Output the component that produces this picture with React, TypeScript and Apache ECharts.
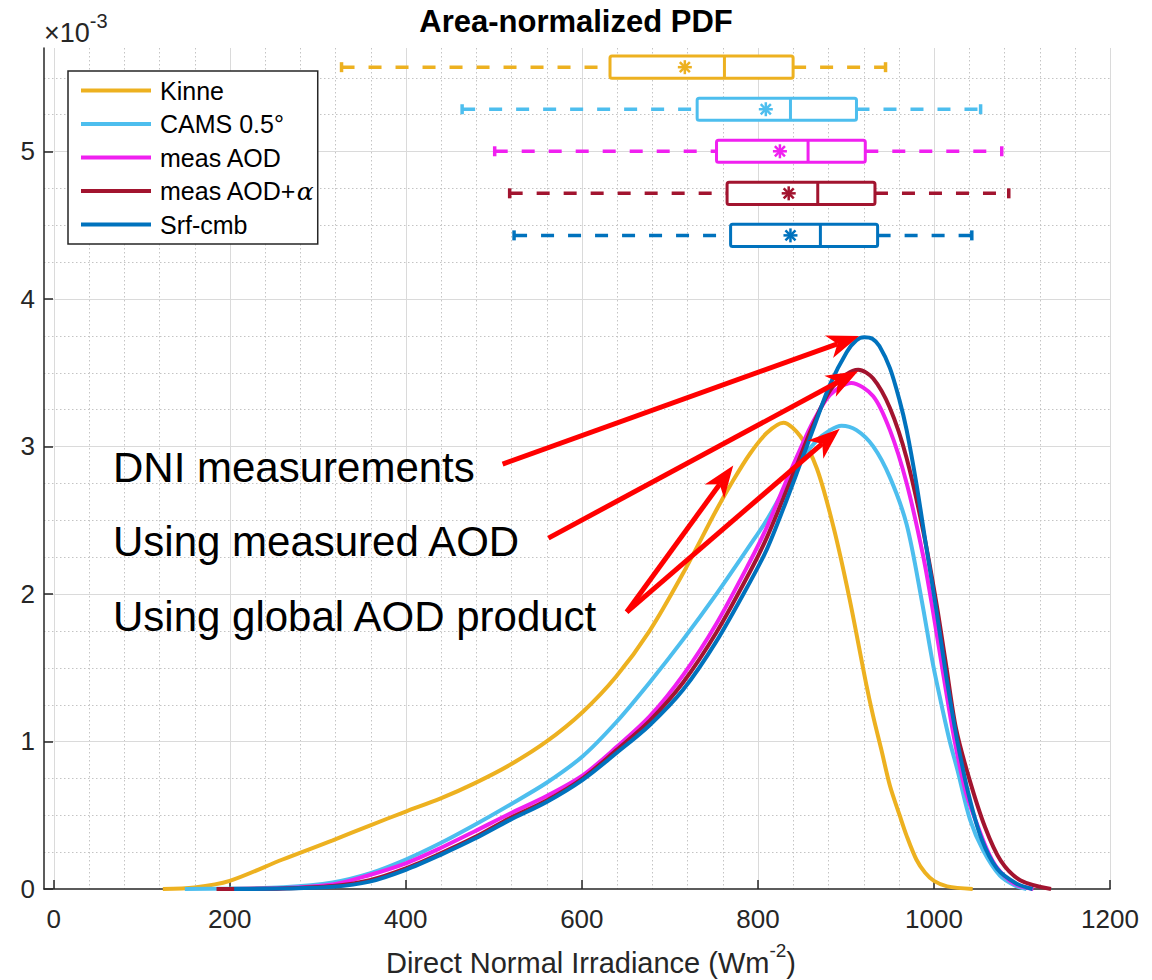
import React, { useEffect, useRef } from "react";
import * as echarts from "echarts";

const FONT = '"Liberation Sans", Arial, Helvetica, sans-serif';

const seriesNames = ["Kinne", "CAMS 0.5°", "meas AOD", "meas AOD+α", "Srf-cmb"];
const seriesColors = ["#EDB120", "#4DBEEE", "#F020F0", "#A2142F", "#0072BD"];

// PDF curves (x: W/m2, y: PDF in 1e-3 units)
const kinneX = [124, 160, 200, 260, 317, 359, 400, 439, 478, 518, 560, 601, 639, 677, 715, 753, 772, 791, 810, 829, 848, 867, 886, 904, 923, 931, 940, 950, 961, 969, 980, 990, 1000, 1015, 1044];
const kinneY = [0, 0.01, 0.055, 0.2, 0.33, 0.43, 0.525, 0.612, 0.716, 0.84, 1.0, 1.2, 1.44, 1.75, 2.14, 2.57, 2.77, 2.95, 3.09, 3.16, 3.07, 2.85, 2.45, 1.97, 1.39, 1.17, 0.95, 0.7, 0.5, 0.36, 0.2, 0.11, 0.055, 0.018, 0];

const camsX = [149, 200, 261, 317, 359, 400, 439, 478, 518, 560, 601, 639, 677, 715, 753, 791, 810, 829, 848, 867, 882, 895, 912, 931, 950, 969, 986, 999, 1010, 1018, 1027, 1041, 1056, 1075, 1093, 1105];
const camsY = [0, 0.003, 0.012, 0.045, 0.106, 0.2, 0.31, 0.434, 0.57, 0.72, 0.9, 1.13, 1.4, 1.69, 2.0, 2.33, 2.5, 2.7, 2.9, 3.04, 3.11, 3.14, 3.11, 3.0, 2.79, 2.47, 1.96, 1.52, 1.21, 1.0, 0.8, 0.47, 0.26, 0.09, 0.02, 0];

const measX = [190, 260, 317, 359, 400, 439, 478, 518, 560, 601, 639, 677, 715, 753, 791, 810, 829, 848, 863, 882, 906, 931, 950, 969, 988, 999, 1011, 1023, 1036, 1047, 1060, 1071, 1090, 1113];
const measY = [0, 0.005, 0.03, 0.095, 0.174, 0.276, 0.39, 0.51, 0.63, 0.77, 0.96, 1.17, 1.45, 1.8, 2.22, 2.45, 2.72, 2.98, 3.17, 3.35, 3.43, 3.34, 3.11, 2.75, 2.25, 1.88, 1.44, 1.02, 0.66, 0.47, 0.27, 0.15, 0.04, 0];

const measAlphaX = [185, 260, 317, 359, 400, 439, 478, 518, 560, 601, 639, 677, 715, 753, 791, 810, 829, 848, 863, 882, 901, 914, 931, 950, 969, 988, 1003, 1014, 1025, 1040, 1058, 1076, 1098, 1133];
const measAlphaY = [0, 0.004, 0.02, 0.06, 0.14, 0.24, 0.35, 0.48, 0.6, 0.75, 0.94, 1.14, 1.4, 1.74, 2.15, 2.38, 2.65, 2.93, 3.15, 3.38, 3.49, 3.52, 3.46, 3.26, 2.92, 2.42, 1.93, 1.51, 1.09, 0.75, 0.42, 0.19, 0.06, 0];

const srfX = [205, 260, 317, 359, 400, 439, 478, 518, 560, 601, 639, 677, 715, 753, 791, 810, 829, 848, 863, 882, 901, 912, 921, 930, 938, 950, 961, 969, 980, 991, 1003, 1014, 1026, 1039, 1054, 1072, 1094, 1112];
const srfY = [0, 0.003, 0.015, 0.05, 0.13, 0.23, 0.34, 0.467, 0.59, 0.74, 0.92, 1.11, 1.35, 1.68, 2.08, 2.3, 2.58, 2.88, 3.12, 3.42, 3.64, 3.72, 3.74, 3.73, 3.68, 3.53, 3.31, 3.11, 2.75, 2.33, 1.88, 1.44, 1.02, 0.65, 0.34, 0.135, 0.036, 0];

const curveX = [kinneX, camsX, measX, measAlphaX, srfX];
const curveY = [kinneY, camsY, measY, measAlphaY, srfY];

// Box plots: [lower whisker, Q1, median, Q3, upper whisker, mean]
const boxPositions = [5.57, 5.285, 5.0, 4.715, 4.43];
const boxKinne = [327, 632, 762, 840, 945, 717];
const boxCams = [464, 731, 837, 912, 1053, 809];
const boxMeas = [501, 753, 857, 922, 1077, 825];
const boxMeasAlpha = [518, 765, 868, 933, 1085, 835];
const boxSrf = [523, 769, 871, 936, 1043, 837];
const boxStats = [boxKinne, boxCams, boxMeas, boxMeasAlpha, boxSrf];
const BOX_HALF = 0.075;

// Axis ticks
const xTicks = [0, 200, 400, 600, 800, 1000, 1200];
const yTicks = [0, 1, 2, 3, 4, 5];

// Annotation arrows [x1, y1, x2, y2] in data units
const arrowDNI = [510, 2.88, 915, 3.748];
const arrowMeasured = [562, 2.378, 914, 3.51];
const arrowGlobalA = [651, 1.877, 772, 2.87];
const arrowGlobalB = [651, 1.877, 893, 3.12];
const arrows = [arrowDNI, arrowMeasured, arrowGlobalA, arrowGlobalB];

const annotationTexts = ["DNI measurements", "Using measured AOD", "Using global AOD product"];

function range(a: number, b: number, step: number): number[] {
  const out: number[] = [];
  for (let v = a; v <= b + 1e-9; v += step) out.push(Math.round(v * 1000) / 1000);
  return out;
}

const xMajorGrid = range(0, 1200, 200);
const xMinorGrid = range(0, 1200, 40).filter((v) => v % 200 !== 0);
const yMajorGrid = range(1, 5, 1);
const yMinorGrid = range(0.25, 5.5, 0.25).filter((v) => Math.abs(v - Math.round(v)) > 1e-6);

function gridSeries(values: number[], vertical: boolean, major: boolean) {
  return {
    type: "custom",
    silent: true,
    z: 0,
    data: values.map((v) => (vertical ? [v, 0] : [0, v])),
    encode: { x: 0, y: 1 },
    renderItem: (params: any, api: any) => {
      const cs = params.coordSys;
      const p = api.coord([api.value(0), api.value(1)]);
      const shape = vertical
        ? { x1: Math.round(p[0]) + 0.5, y1: cs.y, x2: Math.round(p[0]) + 0.5, y2: cs.y + cs.height }
        : { x1: cs.x, y1: Math.round(p[1]) + 0.5, x2: cs.x + cs.width, y2: Math.round(p[1]) + 0.5 };
      return {
        type: "line",
        shape,
        style: major
          ? { stroke: "#DADADA", lineWidth: 1 }
          : { stroke: "#C4C4C4", lineWidth: 1, lineDash: [1.5, 2.5] },
      };
    },
  };
}

export default function App() {
  const ref = useRef<HTMLDivElement>(null);

  useEffect(() => {
    if (!ref.current) return;
    const chart = echarts.init(ref.current, null, { renderer: "svg" });

    const lineSeries = seriesNames.map((name, i) => ({
      name,
      type: "line",
      data: curveX[i].map((x, k) => [x, curveY[i][k]]),
      smooth: 0.3,
      showSymbol: false,
      color: seriesColors[i],
      lineStyle: { width: 4, color: seriesColors[i] },
      z: 2,
    }));

    const boxSeries = {
      type: "custom",
      name: "boxes",
      silent: true,
      z: 3,
      data: boxStats.map((s, i) => [boxPositions[i], ...s]),
      encode: { x: [1, 2, 3, 4, 5, 6], y: 0 },
      renderItem: (params: any, api: any) => {
        const color = seriesColors[params.dataIndex];
        const pos = api.value(0);
        const px = (v: number) => api.coord([v, pos])[0];
        const y = api.coord([0, pos])[1];
        const h = api.size([0, BOX_HALF])[1];
        const wlo = px(api.value(1));
        const q1 = px(api.value(2));
        const med = px(api.value(3));
        const q3 = px(api.value(4));
        const whi = px(api.value(5));
        const mean = px(api.value(6));
        const lw = 3;
        const cap = 5;
        const r = 7;
        const d = r * 0.72;
        const st = { stroke: color, lineWidth: lw, fill: "none" };
        const dash = { stroke: color, lineWidth: 3.5, lineDash: [13, 14] };
        return {
          type: "group",
          children: [
            { type: "line", shape: { x1: wlo, y1: y, x2: q1, y2: y }, style: dash },
            { type: "line", shape: { x1: q3, y1: y, x2: whi, y2: y }, style: dash },
            { type: "line", shape: { x1: wlo, y1: y - cap, x2: wlo, y2: y + cap }, style: { stroke: color, lineWidth: 3.5 } },
            { type: "line", shape: { x1: whi, y1: y - cap, x2: whi, y2: y + cap }, style: { stroke: color, lineWidth: 3.5 } },
            { type: "rect", shape: { x: q1, y: y - h, width: q3 - q1, height: 2 * h, r: 2 }, style: { ...st, fill: "#fff" } },
            { type: "line", shape: { x1: med, y1: y - h, x2: med, y2: y + h }, style: st },
            { type: "line", shape: { x1: mean - r, y1: y, x2: mean + r, y2: y }, style: { stroke: color, lineWidth: 2.5 } },
            { type: "line", shape: { x1: mean, y1: y - r, x2: mean, y2: y + r }, style: { stroke: color, lineWidth: 2.5 } },
            { type: "line", shape: { x1: mean - d, y1: y - d, x2: mean + d, y2: y + d }, style: { stroke: color, lineWidth: 2.5 } },
            { type: "line", shape: { x1: mean - d, y1: y + d, x2: mean + d, y2: y - d }, style: { stroke: color, lineWidth: 2.5 } },
          ],
        };
      },
    };

    const arrowSeries = {
      type: "custom",
      name: "arrows",
      silent: true,
      z: 6,
      clip: false,
      data: arrows,
      encode: { x: [0, 2], y: [1, 3] },
      renderItem: (params: any, api: any) => {
        const p1 = api.coord([api.value(0), api.value(1)]);
        const p2 = api.coord([api.value(2), api.value(3)]);
        const dx = p2[0] - p1[0];
        const dy = p2[1] - p1[1];
        const len = Math.hypot(dx, dy);
        const ux = dx / len;
        const uy = dy / len;
        const nx = -uy;
        const ny = ux;
        const L = 32;
        const W = 12;
        const base = [p2[0] - ux * L, p2[1] - uy * L];
        const notch = [p2[0] - ux * L * 0.72, p2[1] - uy * L * 0.72];
        return {
          type: "group",
          children: [
            { type: "line", shape: { x1: p1[0], y1: p1[1], x2: notch[0], y2: notch[1] }, style: { stroke: "#FF0000", lineWidth: 5 } },
            {
              type: "polygon",
              shape: { points: [p2, [base[0] + nx * W, base[1] + ny * W], notch, [base[0] - nx * W, base[1] - ny * W]] },
              style: { fill: "#FF0000" },
            },
          ],
        };
      },
    };

    const annotationGraphics = annotationTexts.map((t, i) => ({
      type: "text",
      left: 113,
      top: 446 + i * 74.5,
      z: 10,
      style: { text: t, fontSize: 42, fontFamily: FONT, fill: "#000" },
    }));

    const plainLabel = (v: number) => String(v);

    chart.setOption({
      animation: false,
      backgroundColor: "#ffffff",
      title: {
        text: "Area-normalized PDF",
        left: "center",
        top: 1,
        textStyle: { fontSize: 31, fontWeight: "bold", fontFamily: FONT, color: "#000" },
      },
      legend: {
        data: seriesNames,
        left: 68,
        top: 71,
        orient: "vertical",
        icon: "rect",
        itemWidth: 70,
        itemHeight: 4,
        itemGap: 8.5,
        padding: [7, 4, 7, 13],
        borderColor: "#262626",
        borderWidth: 1.5,
        backgroundColor: "#fff",
        selectedMode: false,
        formatter: (name: string) => (name === "meas AOD+α" ? "meas AOD+{al|α}" : name),
        textStyle: {
          fontSize: 25,
          lineHeight: 24,
          fontFamily: FONT,
          color: "#000",
          padding: [0, 0, 0, 4],
          rich: {
            al: { fontSize: 25, fontFamily: '"DejaVu Serif", serif', fontStyle: "italic", color: "#000" },
          },
        },
      },
      grid: { left: 44, right: 42, top: 48, bottom: 91, containLabel: false, outerBoundsMode: "none" },
      xAxis: {
        type: "value",
        min: -11,
        max: 1200,
        name: "{m|Direct Normal Irradiance (Wm}{s|-2}{m|)}",
        nameLocation: "middle",
        nameGap: 52,
        nameTextStyle: {
          padding: [0, 0, 0, 28],
          rich: {
            m: { fontSize: 29, fontFamily: FONT, color: "#262626", verticalAlign: "bottom" },
            s: { fontSize: 19, fontFamily: FONT, color: "#262626", verticalAlign: "bottom", padding: [0, 0, 17, 0] },
          },
        },
        axisLine: { show: true, onZero: false, lineStyle: { color: "#262626", width: 1.5 } },
        axisTick: { show: true, inside: true, length: 9, customValues: xTicks, lineStyle: { color: "#262626", width: 1.5 } },
        axisLabel: { customValues: xTicks, formatter: plainLabel, fontSize: 26, fontFamily: FONT, color: "#262626", margin: 17 },
        splitLine: { show: false },
      },
      yAxis: {
        type: "value",
        min: 0,
        max: 5.7,
        axisLine: { show: true, onZero: false, lineStyle: { color: "#262626", width: 1.5 } },
        axisTick: { show: true, inside: true, length: 9, customValues: yTicks, lineStyle: { color: "#262626", width: 1.5 } },
        axisLabel: { customValues: yTicks, formatter: plainLabel, fontSize: 26, fontFamily: FONT, color: "#262626", margin: 9 },
        splitLine: { show: false },
      },
      graphic: [
        {
          type: "text",
          left: 44,
          top: 11,
          style: {
            text: "{a|×10}{b|-3}",
            rich: {
              a: { fontSize: 27, fontFamily: FONT, fill: "#262626", verticalAlign: "bottom" },
              b: { fontSize: 20, fontFamily: FONT, fill: "#262626", verticalAlign: "bottom", padding: [0, 0, 15, 0] },
            },
          },
        },
        ...annotationGraphics,
      ],
      series: [
        gridSeries(xMinorGrid, true, false),
        gridSeries(yMinorGrid, false, false),
        gridSeries(xMajorGrid, true, true),
        gridSeries(yMajorGrid, false, true),
        ...lineSeries,
        boxSeries,
        arrowSeries,
      ],
    });

    return () => chart.dispose();
  }, []);

  return <div ref={ref} style={{ position: "absolute", left: 0, top: 0, width: 1152, height: 980 }} />;
}
